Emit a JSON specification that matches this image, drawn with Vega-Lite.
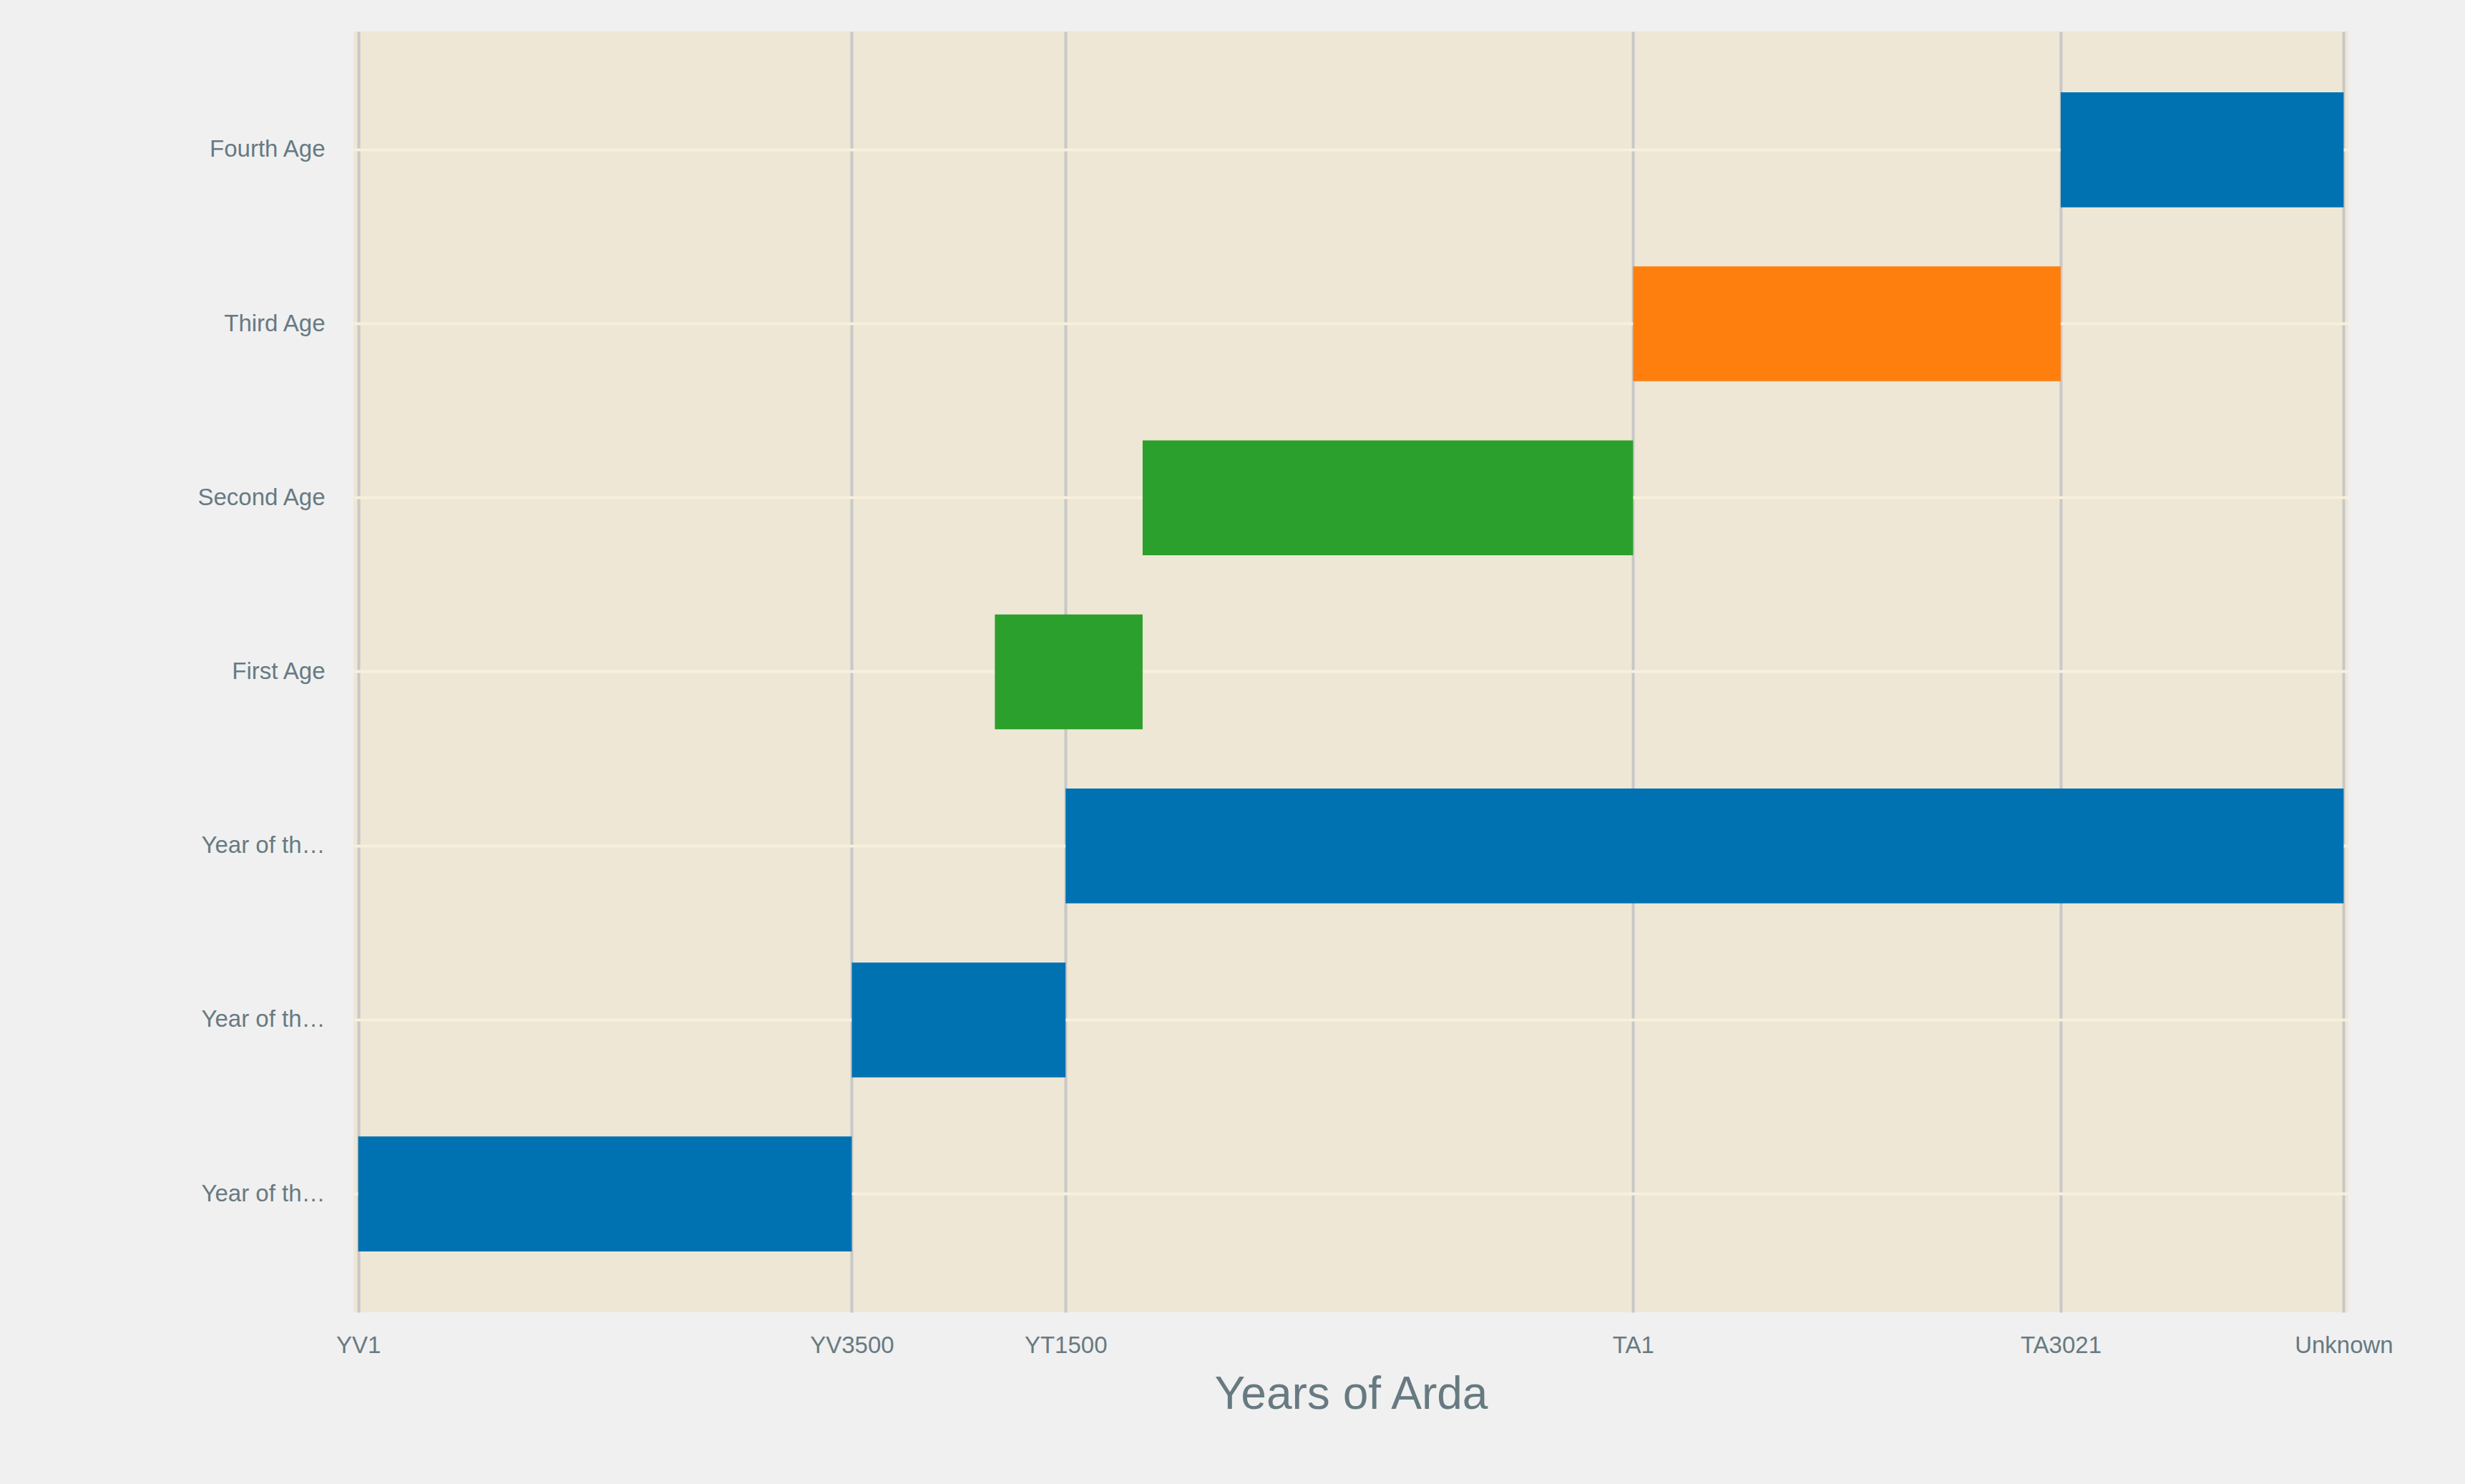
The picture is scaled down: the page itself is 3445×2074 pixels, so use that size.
{
  "$schema": "https://vega.github.io/schema/vega-lite/v6.json",
  "width": 2788,
  "height": 1790,
  "autosize": "none",
  "padding": {"left": 494, "top": 44, "right": 163, "bottom": 240},
  "background": "#f0f0f0",
  "config": {
    "view": {"fill": "#efe7d6", "stroke": null},
    "font": "Liberation Sans"
  },
  "data": {
    "values": [
      {"period": "Fourth Age", "start": 1083, "end": 1263, "kind": "calendar"},
      {"period": "Third Age", "start": 811, "end": 1083, "kind": "third"},
      {"period": "Second Age", "start": 499, "end": 811, "kind": "age"},
      {"period": "First Age", "start": 405, "end": 499, "kind": "age"},
      {"period": "Year of the Sun", "start": 450, "end": 1263, "kind": "calendar"},
      {"period": "Year of the Tree", "start": 314, "end": 450, "kind": "calendar"},
      {"period": "Year of the Valar", "start": 0, "end": 314, "kind": "calendar"}
    ]
  },
  "mark": {"type": "bar"},
  "encoding": {
    "y": {
      "field": "period",
      "type": "nominal",
      "sort": null,
      "scale": {"paddingInner": 0.34, "paddingOuter": 0.35},
      "axis": {
        "title": null,
        "domain": false,
        "ticks": false,
        "grid": true,
        "bandPosition": 0.5,
        "gridColor": "#f8f0dc",
        "gridWidth": 4,
        "labelFontSize": 33,
        "labelColor": "#677a82",
        "labelPadding": 40
      }
    },
    "x": {
      "field": "start",
      "type": "quantitative",
      "scale": {"domain": [-3, 1266], "nice": false, "zero": false},
      "axis": {
        "title": "Years of Arda",
        "titleFontSize": 64,
        "titleFontWeight": "normal",
        "titleColor": "#677a82",
        "titlePadding": 20,
        "values": [0, 314, 450, 811, 1083, 1263],
        "labelExpr": "{'0':'YV1','314':'YV3500','450':'YT1500','811':'TA1','1083':'TA3021','1263':'Unknown'}[datum.value + '']",
        "labelFontSize": 33,
        "labelColor": "#677a82",
        "labelPadding": 30,
        "labelFlush": false,
        "domain": false,
        "ticks": false,
        "grid": true,
        "gridColor": "#c8c8c8",
        "gridWidth": 4
      }
    },
    "x2": {"field": "end"},
    "color": {
      "field": "kind",
      "type": "nominal",
      "scale": {"domain": ["calendar", "third", "age"], "range": ["#0072b2", "#ff7f0e", "#2ca02c"]},
      "legend": null
    }
  }
}
